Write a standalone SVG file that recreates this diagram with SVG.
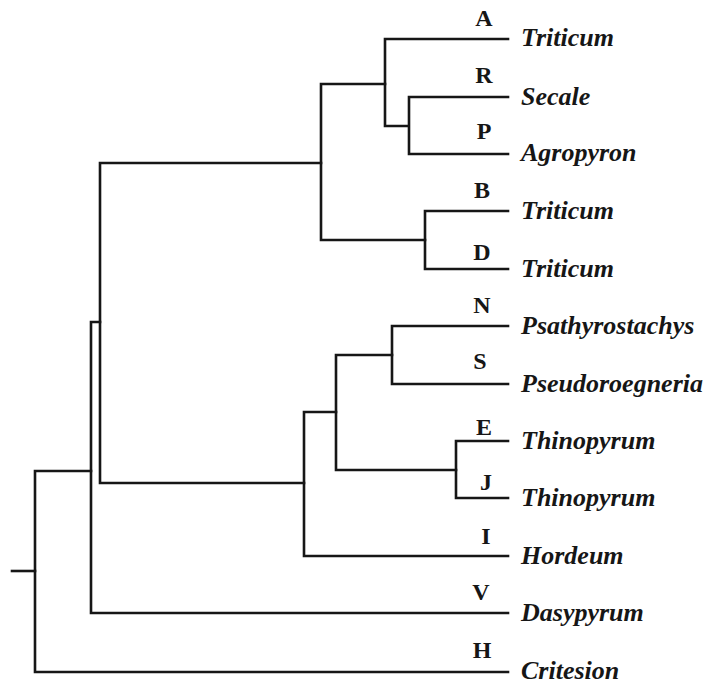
<svg xmlns="http://www.w3.org/2000/svg" width="710" height="684" viewBox="0 0 710 684">
  <style>
    .br { fill: none; stroke: #161616; stroke-width: 2.6; stroke-linecap: square; stroke-linejoin: miter; }
    .genome { font-family: "Liberation Serif", "Times New Roman", serif; font-weight: bold; font-size: 24px; fill: #161616; text-anchor: middle; }
    .taxon { font-family: "Liberation Serif", "Times New Roman", serif; font-weight: bold; font-style: italic; font-size: 26px; fill: #161616; }
  </style>
  <rect width="710" height="684" fill="#ffffff"/>

  <!-- tree branches -->
  <g id="branches">
    <!-- Triticum A / (Secale, Agropyron) -->
    <path class="br" d="M385,39 H508 M385,39 V126 M385,126 H409 M409,97 V154 M409,97 H508 M409,154 H508"/>
    <!-- Triticum B / Triticum D -->
    <path class="br" d="M425,211 V269 M425,211 H508 M425,269 H508"/>
    <path class="br" d="M321,84 H385 M321,84 V240 M321,240 H425"/>
    <!-- Psathyrostachys / Pseudoroegneria -->
    <path class="br" d="M392,326 V384 M392,326 H508 M392,384 H508"/>
    <!-- Thinopyrum E / J -->
    <path class="br" d="M456,441 V498 M456,441 H508 M456,498 H508"/>
    <path class="br" d="M336,355 H392 M336,355 V470 M336,470 H456"/>
    <path class="br" d="M304,412 H336 M304,412 V556 M304,556 H508"/>
    <!-- upper backbone -->
    <path class="br" d="M100,163 H321 M100,163 V483 M100,483 H304"/>
    <path class="br" d="M91,322 H100 M91,322 V613 M91,613 H508"/>
    <path class="br" d="M35,471 H91 M35,471 V672 M35,672 H508"/>
    <!-- root -->
    <path class="br" d="M12,571 H35"/>
  </g>

  <g id="taxon-A"><text class="genome" x="484" y="26">A</text><text class="taxon" x="521" y="46">Triticum</text></g>
  <g id="taxon-R"><text class="genome" x="484" y="83">R</text><text class="taxon" x="521" y="105">Secale</text></g>
  <g id="taxon-P"><text class="genome" x="484" y="139">P</text><text class="taxon" x="521" y="161">Agropyron</text></g>
  <g id="taxon-B"><text class="genome" x="482" y="198">B</text><text class="taxon" x="521" y="219">Triticum</text></g>
  <g id="taxon-D"><text class="genome" x="482" y="260">D</text><text class="taxon" x="521" y="277">Triticum</text></g>
  <g id="taxon-N"><text class="genome" x="482" y="313">N</text><text class="taxon" x="521" y="334">Psathyrostachys</text></g>
  <g id="taxon-S"><text class="genome" x="480" y="369">S</text><text class="taxon" x="521" y="392">Pseudoroegneria</text></g>
  <g id="taxon-E"><text class="genome" x="484" y="435">E</text><text class="taxon" x="521" y="449">Thinopyrum</text></g>
  <g id="taxon-J"><text class="genome" x="486" y="490">J</text><text class="taxon" x="521" y="506">Thinopyrum</text></g>
  <g id="taxon-I"><text class="genome" x="486" y="544">I</text><text class="taxon" x="521" y="564">Hordeum</text></g>
  <g id="taxon-V"><text class="genome" x="481" y="600">V</text><text class="taxon" x="521" y="621">Dasypyrum</text></g>
  <g id="taxon-H"><text class="genome" x="482" y="658">H</text><text class="taxon" x="521" y="679">Critesion</text></g>
</svg>
